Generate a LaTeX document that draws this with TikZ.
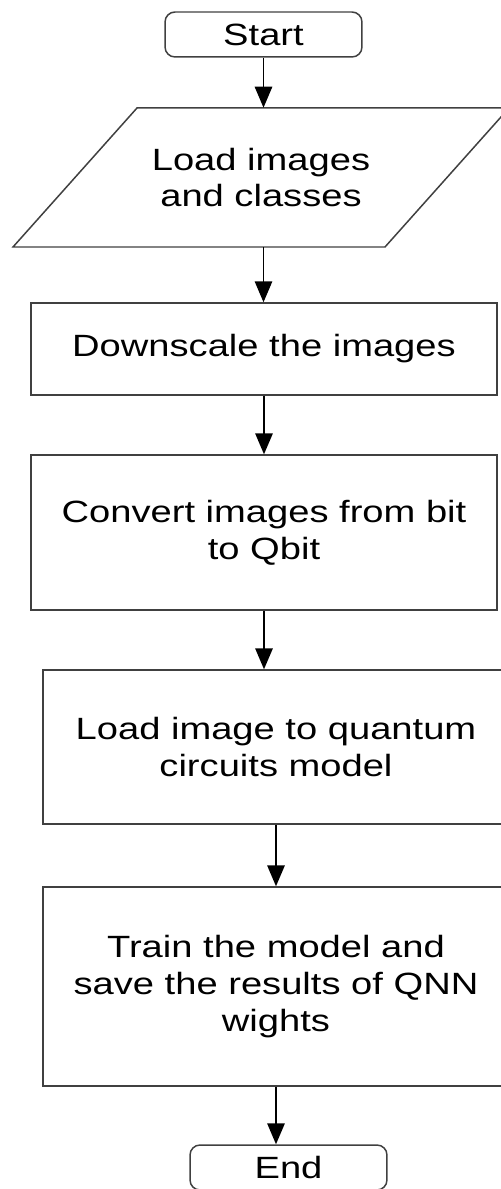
\documentclass[tikz,border=0pt]{standalone}
\usepackage{fontspec}
\setmainfont{Liberation Sans}[FakeStretch=1.24]
\usetikzlibrary{arrows.meta}

\begin{document}
\begin{tikzpicture}[x=0.02cm,y=-0.02cm,>={Triangle[width=0.35cm,length=0.42cm]}]
  \tikzset{
    every node/.style={font=\fontsize{17.5}{21}\selectfont},
    box/.style={draw=black!75, line width=0.85pt, minimum width=9.32cm,
      align=center, inner sep=0pt},
    term/.style={box, rounded corners=0.2cm, minimum width=3.94cm,
      minimum height=0.9cm},
    flow/.style={->, line width=0.85pt},
  }
  \useasboundingbox (0,0) rectangle (500,1189);

  % terminals and steps
  \node[term] (start) at (263.5,34.5) {Start};
  \node[align=center, minimum height=2.78cm, inner sep=0pt] (load)
    at (261,177.5) {Load images\\and classes};
  \draw[draw=black!75, line width=0.85pt]
    (137,108) -- (509,108) -- (385,247) -- (13,247) -- cycle;
  \node[box, minimum height=1.84cm] (down) at (264,349) {Downscale the images};
  \node[box, minimum height=3.1cm] (conv) at (264,532.5)
    {Convert images from bit\\to Qbit};
  \node[box, minimum height=3.08cm] (quant) at (276,747)
    {Load image to quantum\\circuits model};
  \node[box, minimum height=3.98cm] (train) at (276,986.5)
    {Train the model and\\save the results of QNN\\wights};
  \node[term] (end) at (288.5,1167.5) {End};

  % connectors
  \draw[flow] (start) -- (start |- load.north);
  \draw[flow] (load.south -| start) -- (start |- down.north);
  \draw[flow] (down) -- (conv);
  \draw[flow] (conv) -- (conv |- quant.north);
  \draw[flow] (quant) -- (train);
  \draw[flow] (train) -- (train |- end.north);
\end{tikzpicture}
\end{document}
